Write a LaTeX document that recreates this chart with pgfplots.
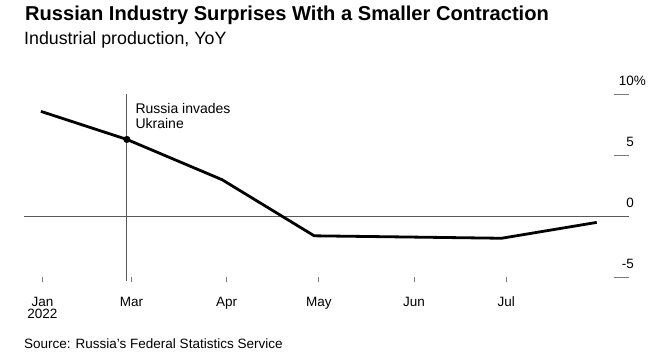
\documentclass[border=0pt]{standalone}
\usepackage{pgfplots}
\pgfplotsset{compat=1.18}
\usepackage{fontspec}
\setmainfont{Liberation Sans}
\definecolor{gridgray}{HTML}{5A5A5A}
\definecolor{tickgray}{HTML}{7A7A7A}
\begin{document}
\begin{tikzpicture}[x=1pt,y=1pt]
\useasboundingbox (0,0) rectangle (666,363);
\node[anchor=base west, inner sep=0, font=\fontsize{20.1}{23}\selectfont\bfseries] at (25,342.3) {Russian Industry Surprises With a Smaller Contraction};
\node[anchor=base west, inner sep=0, font=\fontsize{17.8}{20}\selectfont] at (24,318) {Industrial production, YoY};
\node[anchor=base west, inner sep=0, font=\fontsize{13.5}{16}\selectfont] at (24,14.7) {Source: Russia's Federal Statistics Service};
\begin{axis}[
  at={(24pt,85.7pt)}, anchor=south west, scale only axis,
  width=605pt, height=183pt,
  xmin=25.5, xmax=222.5, ymin=-5, ymax=10,
  axis line style={draw=none},
  clip=false,
  xtick={31.5,60.5,91.5,121.5,152.5,182.5},
  xticklabels={Jan,Mar,Apr,May,Jun,Jul},
  xtick pos=bottom, tick align=outside, major tick length=5pt,
  xtick style={draw=tickgray, line width=0.8pt},
  xticklabel style={font=\fontsize{13.5}{17}\selectfont, anchor=base, inner sep=0pt, yshift=-24.4pt},
  ytick={-5,0,5,10}, yticklabels={-5,0,5,{10\rlap{\%}}},
  ytick pos=right, ytick style={draw=none},
  yticklabel style={font=\fontsize{13.5}{16}\selectfont, anchor=base east, inner sep=0pt, yshift=8.7pt},
]
\draw[gridgray, line width=1pt] (axis cs:25.5,0) -- (axis cs:222.5,0);
\draw[gridgray, line width=1pt] (axis cs:59,10) -- (axis cs:59,-5) -- ++(0pt,-4pt);
\draw[tickgray, line width=1pt] (axis cs:222.5,10) -- ++(-15pt,0pt);
\draw[tickgray, line width=1pt] (axis cs:222.5,5) -- ++(-15pt,0pt);
\draw[tickgray, line width=1pt] (axis cs:222.5,-5) -- ++(-15pt,0pt);
\addplot[black, line width=2.8pt, line join=round] coordinates {(31,8.6)(59,6.3)(90,3.0)(120,-1.6)(151,-1.7)(181,-1.8)(212,-0.5)};
\addplot[only marks, mark=*, mark size=3.3pt, black] coordinates {(59,6.3)};
\node[anchor=base west, align=left, inner sep=0, font=\fontsize{14}{15.3}\selectfont, xshift=8.5pt] at (axis cs:59,7.16) {Russia invades\\Ukraine};
\node[anchor=base, inner sep=0, font=\fontsize{13.5}{16}\selectfont, yshift=-41.4pt] at (axis cs:31.5,-5) {2022};
\end{axis}
\end{tikzpicture}
\end{document}
